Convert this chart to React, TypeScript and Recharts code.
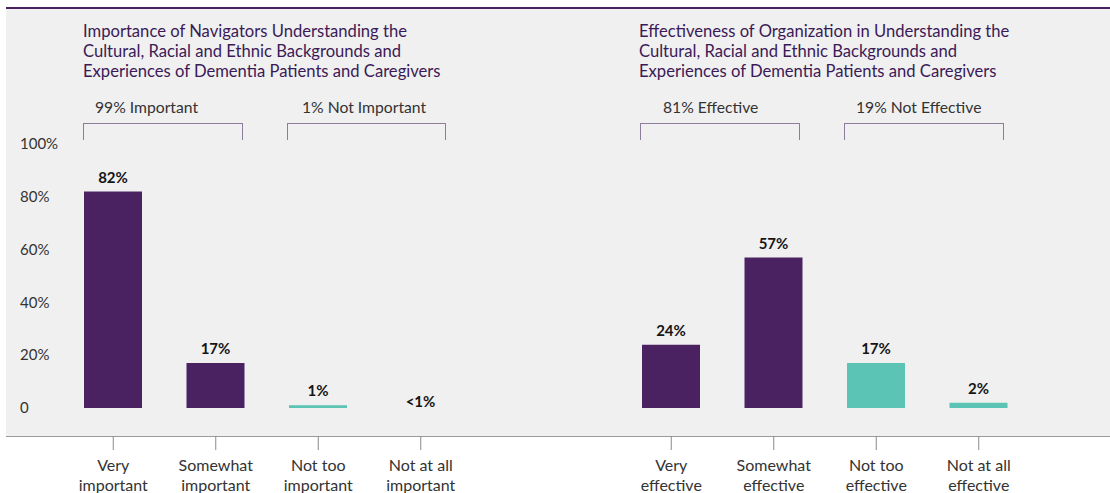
import { BarChart, Bar, XAxis, YAxis, Cell, LabelList } from "recharts";

const importanceCategories = ["Very\nimportant", "Somewhat\nimportant", "Not too\nimportant", "Not at all\nimportant"];
const importanceValues = [82, 17, 1, 0.3];
const importanceLabels = ["82%", "17%", "1%", "<1%"];

const effectivenessCategories = ["Very\neffective", "Somewhat\neffective", "Not too\neffective", "Not at all\neffective"];
const effectivenessValues = [24, 57, 17, 2];
const effectivenessLabels = ["24%", "57%", "17%", "2%"];

const yTicks = [0, 20, 40, 60, 80, 100];

const leftTitle = [
  "Importance of Navigators Understanding the",
  "Cultural, Racial and Ethnic Backgrounds and",
  "Experiences of Dementia Patients and Caregivers",
];
const rightTitle = [
  "Effectiveness of Organization in Understanding the",
  "Cultural, Racial and Ethnic Backgrounds and",
  "Experiences of Dementia Patients and Caregivers",
];

const groupLabels = ["99% Important", "1% Not Important", "81% Effective", "19% Not Effective"];

const PURPLE = "#4a2262";
const TEAL = "#5bc4b4";
const barColors = [PURPLE, PURPLE, TEAL, TEAL];
const FONT = "Lato, 'Open Sans', sans-serif";

const build = (cats: string[], vals: number[], labels: string[]) =>
  cats.map((c, i) => ({ name: c, value: vals[i], label: labels[i] }));

const importanceData = build(importanceCategories, importanceValues, importanceLabels);
const effectivenessData = build(effectivenessCategories, effectivenessValues, effectivenessLabels);

function CategoryTick(props: any) {
  const { x, y, payload } = props;
  const lines = String(payload.value).split("\n");
  return (
    <g>
      <line x1={x} x2={x} y1={y + 28} y2={y + 42} stroke="#8a8a8a" strokeWidth={1} />
      {lines.map((l, i) => (
        <text
          key={i}
          x={x}
          y={y + 57 + i * 20}
          dy="0.35em"
          textAnchor="middle"
          fill="#333"
          fontSize={16}
          fontFamily={FONT}
        >
          {l}
        </text>
      ))}
    </g>
  );
}

function PercentTick(props: any) {
  const { y, payload } = props;
  return (
    <text x={20} y={y} dy="0.35em" textAnchor="start" fill="#333" fontSize={15} fontFamily={FONT}>
      {payload.value === 0 ? "0" : `${payload.value}%`}
    </text>
  );
}

function ValueLabel(props: any) {
  const { x, y, width, value, height } = props;
  // the "<1%" bar is too thin to see, so its label sits lower
  const tiny = Math.abs(height) < 1.5;
  return (
    <text
      x={x + width / 2}
      y={tiny ? y : y - 9}
      textAnchor="middle"
      fill="#151515"
      fontSize={15}
      fontWeight={700}
      fontFamily={FONT}
    >
      {value}
    </text>
  );
}

function Panel({ data, showY, left, marginLeft }: { data: any[]; showY: boolean; left: number; marginLeft: number }) {
  return (
    <div style={{ position: "absolute", left, top: 0 }}>
      <BarChart
        width={555}
        height={493}
        data={data}
        margin={{ top: 144, right: 555 - marginLeft - 410, bottom: 0, left: showY ? 0 : marginLeft }}
        barCategoryGap={0}
      >
        <XAxis
          dataKey="name"
          axisLine={false}
          tickLine={false}
          tickSize={0}
          tickMargin={0}
          height={85}
          interval={0}
          tick={<CategoryTick />}
        />
        <YAxis
          hide={!showY}
          width={marginLeft}
          domain={[0, 100]}
          ticks={yTicks}
          axisLine={false}
          tickLine={false}
          tick={<PercentTick />}
        />
        <Bar dataKey="value" barSize={58} isAnimationActive={false}>
          {data.map((d, i) => (
            <Cell key={i} fill={barColors[i]} fillOpacity={d.value < 1 ? 0 : 1} />
          ))}
          <LabelList dataKey="label" content={<ValueLabel />} />
        </Bar>
      </BarChart>
    </div>
  );
}

function Bracket({ x, w }: { x: number; w: number }) {
  return (
    <div
      style={{
        position: "absolute",
        left: x,
        top: 123,
        width: w,
        height: 17,
        borderTop: "1.5px solid #8c7d9b",
        borderLeft: "1.5px solid #8c7d9b",
        borderRight: "1.5px solid #8c7d9b",
        boxSizing: "border-box",
      }}
    />
  );
}

export default function App() {
  const titleStyle = (x: number) => ({
    position: "absolute" as const,
    left: x,
    top: 21,
    color: "#3b1a57",
    fontSize: 16.6,
    lineHeight: "20px",
    fontFamily: FONT,
    whiteSpace: "nowrap" as const,
  });
  const groupStyle = (x: number) => ({
    position: "absolute" as const,
    left: x,
    top: 97,
    color: "#333",
    fontSize: 15.7,
    lineHeight: "20px",
    fontFamily: FONT,
    whiteSpace: "nowrap" as const,
  });
  return (
    <div style={{ position: "absolute", left: 0, top: 0, width: 1110, height: 493, background: "#fff", overflow: "hidden" }}>
      <div
        style={{
          position: "absolute",
          left: 6,
          top: 7,
          width: 1104,
          height: 430,
          background: "#f0f0f0",
          borderTop: `2px solid ${PURPLE}`,
          borderBottom: "1px solid #9a9a9a",
          boxSizing: "border-box",
        }}
      />
      <div style={titleStyle(83)}>
        {leftTitle.map((t) => (
          <div key={t}>{t}</div>
        ))}
      </div>
      <div style={titleStyle(639)}>
        {rightTitle.map((t) => (
          <div key={t}>{t}</div>
        ))}
      </div>
      <div style={groupStyle(95)}>{groupLabels[0]}</div>
      <div style={groupStyle(302)}>{groupLabels[1]}</div>
      <div style={groupStyle(663)}>{groupLabels[2]}</div>
      <div style={groupStyle(856)}>{groupLabels[3]}</div>
      <Bracket x={83} w={160} />
      <Bracket x={287} w={159} />
      <Bracket x={640} w={160} />
      <Bracket x={844} w={160} />
      <Panel data={importanceData} showY={true} left={0} marginLeft={62} />
      <Panel data={effectivenessData} showY={false} left={555} marginLeft={65} />
    </div>
  );
}
